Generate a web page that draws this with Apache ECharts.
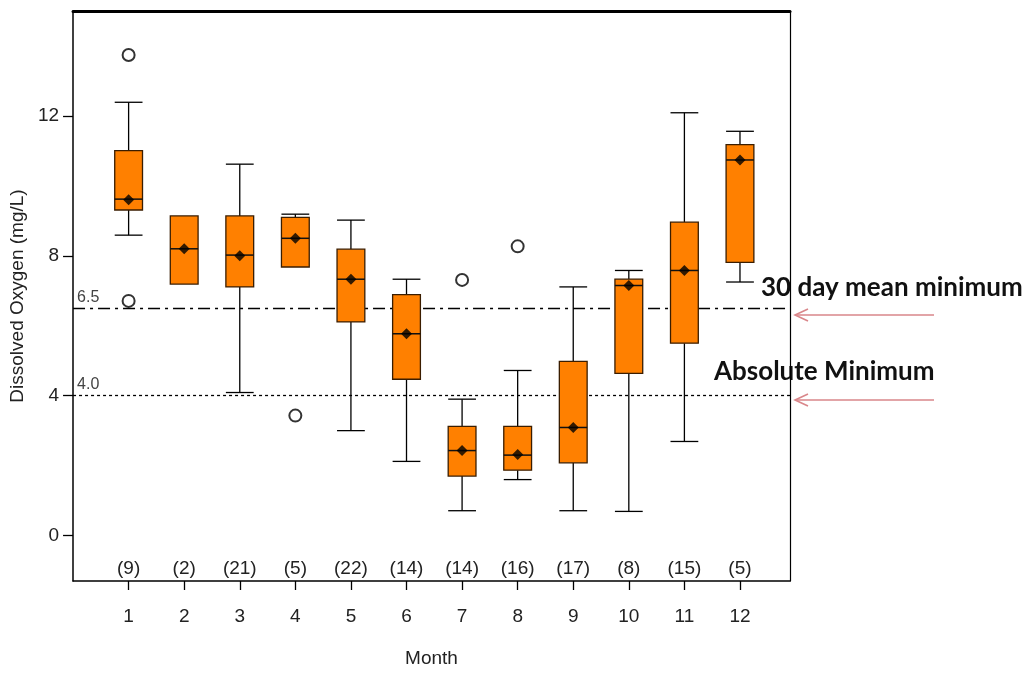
<!DOCTYPE html>
<html>
<head>
<meta charset="utf-8">
<script src="https://cdn.jsdelivr.net/npm/echarts@6/dist/echarts.min.js"></script>
<style>
  html, body { margin: 0; padding: 0; background: #fff; }
  #chart { width: 1026px; height: 673px; }
</style>
</head>
<body>
<div id="chart"></div>
<script>
// ---- data ----
const months       = [1, 2, 3, 4, 5, 6, 7, 8, 9, 10, 11, 12];
const whiskerLow   = [8.59, 7.19, 4.09, 7.68, 3.00, 2.12, 0.71, 1.60, 0.71, 0.69, 2.69, 7.25];
const q1           = [9.31, 7.19, 7.11, 7.68, 6.11, 4.47, 1.70, 1.87, 2.08, 4.64, 5.50, 7.81];
const medians      = [9.62, 8.20, 8.02, 8.50, 7.33, 5.77, 2.43, 2.30, 3.09, 7.15, 7.58, 10.74];
const q3           = [11.01, 9.14, 9.14, 9.10, 8.19, 6.89, 3.12, 3.12, 4.98, 7.33, 8.96, 11.18];
const whiskerHigh  = [12.39, 9.14, 10.62, 9.19, 9.02, 7.33, 3.90, 4.72, 7.11, 7.58, 12.09, 11.56];
const means        = [9.60, 8.20, 8.00, 8.50, 7.33, 5.77, 2.43, 2.32, 3.09, 7.15, 7.58, 10.74];
const counts       = [9, 2, 21, 5, 22, 14, 14, 16, 17, 8, 15, 5];
const outliers     = [[1, 13.74], [1, 6.71], [4, 3.43], [7, 7.31], [8, 8.27]];
const yTicks       = [0, 4, 8, 12];
const refLines     = [6.5, 4.0];
const refLabels    = ['6.5', '4.0'];

// ---- style / layout constants ----
const COUNT_ROW_Y = -0.94;      // value-level where the "(n)" row sits
const BOX_HALF = 0.25;          // half box width in month units
const ORANGE = '#ff8000';
const BOX_EDGE = '#3a1d00';
const FONT = '"Liberation Sans", Arial, sans-serif';
const TXT = '#222';
const FS = 19;

const boxData = months.map((m, i) => [m, whiskerLow[i], q1[i], medians[i], q3[i], whiskerHigh[i]]);
const meanData = months.map((m, i) => [m, means[i]]);
const countData = months.map((m, i) => [m, counts[i]]);

function renderBox(params, api) {
  const m = api.value(0);
  const lo = api.value(1), b1 = api.value(2), md = api.value(3), b3 = api.value(4), hi = api.value(5);
  const hw = api.size([1, 0])[0] * BOX_HALF;
  const x = api.coord([m, md])[0];
  const y = v => api.coord([m, v])[1];
  const wStyle = { stroke: '#000', lineWidth: 1.3, fill: null };
  const children = [];
  if (hi > b3) {
    children.push({ type: 'line', shape: { x1: x, y1: y(b3), x2: x, y2: y(hi) }, style: wStyle });
    children.push({ type: 'line', shape: { x1: x - hw, y1: y(hi), x2: x + hw, y2: y(hi) }, style: wStyle });
  }
  if (lo < b1) {
    children.push({ type: 'line', shape: { x1: x, y1: y(b1), x2: x, y2: y(lo) }, style: wStyle });
    children.push({ type: 'line', shape: { x1: x - hw, y1: y(lo), x2: x + hw, y2: y(lo) }, style: wStyle });
  }
  children.push({ type: 'rect', shape: { x: x - hw, y: y(b3), width: 2 * hw, height: y(b1) - y(b3) },
    style: { fill: ORANGE, stroke: BOX_EDGE, lineWidth: 1.3 } });
  children.push({ type: 'line', shape: { x1: x - hw, y1: y(md), x2: x + hw, y2: y(md) },
    style: { stroke: '#111', lineWidth: 1.5 } });
  return { type: 'group', children };
}

function renderCount(params, api) {
  const p = api.coord([api.value(0), COUNT_ROW_Y]);
  return { type: 'text', x: p[0], y: p[1],
    style: { text: '(' + api.value(1) + ')', fontSize: FS, fontFamily: FONT, fill: TXT,
      align: 'center', verticalAlign: 'middle' } };
}

const chart = echarts.init(document.getElementById('chart'), null, { renderer: 'canvas' });
const option = {
  animation: false,
  backgroundColor: '#fff',
  grid: { left: 72, right: 236, top: 11, bottom: 92, containLabel: false },
  xAxis: [{
    type: 'value', min: 0, max: 12.9, position: 'bottom',
    name: 'Month', nameLocation: 'middle', nameGap: 68,
    nameTextStyle: { fontSize: FS, fontFamily: FONT, color: TXT },
    axisLine: { show: true, onZero: false, lineStyle: { color: '#000', width: 1.5 } },
    axisTick: { show: true, length: 9, customValues: months, lineStyle: { color: '#000', width: 1.3 } },
    axisLabel: { customValues: months, margin: 26, fontSize: FS, fontFamily: FONT, color: TXT },
    splitLine: { show: false }
  }, {
    type: 'value', min: 0, max: 12.9, position: 'top',
    axisLine: { show: true, onZero: false, lineStyle: { color: '#000', width: 3 } },
    axisTick: { show: false }, axisLabel: { show: false }, splitLine: { show: false }
  }],
  yAxis: [{
    type: 'value', min: -1.3, max: 15, position: 'left',
    name: 'Dissolved Oxygen (mg/L)', nameLocation: 'middle', nameGap: 44,
    nameTextStyle: { fontSize: FS, fontFamily: FONT, color: TXT },
    axisLine: { show: true, onZero: false, lineStyle: { color: '#000', width: 1.5 } },
    axisTick: { show: true, length: 10, customValues: yTicks, lineStyle: { color: '#000', width: 1.3 } },
    axisLabel: { customValues: yTicks, margin: 14, fontSize: FS, fontFamily: FONT, color: TXT },
    splitLine: { show: false }
  }, {
    type: 'value', min: -1.3, max: 15, position: 'right',
    axisLine: { show: true, onZero: false, lineStyle: { color: '#000', width: 1.2 } },
    axisTick: { show: false }, axisLabel: { show: false }, splitLine: { show: false }
  }],
  series: [
    {
      type: 'custom', name: 'box', xAxisIndex: 0, yAxisIndex: 0,
      data: boxData, renderItem: renderBox, z: 3,
      encode: { x: 0, y: [1, 2, 3, 4, 5] },
      markLine: {
        silent: true, symbol: 'none', z: 2,
        data: [
          { yAxis: refLines[0], lineStyle: { type: [12, 5, 3, 5], color: '#000', width: 1.3 },
            label: { formatter: refLabels[0] } },
          { yAxis: refLines[1], lineStyle: { type: [3, 3], color: '#000', width: 1.3 },
            label: { formatter: refLabels[1] } }
        ],
        label: { position: 'insideStartTop', distance: [4, 3], fontSize: 16, fontFamily: FONT, color: '#444' }
      }
    },
    {
      type: 'scatter', name: 'mean', data: meanData, symbol: 'diamond', symbolSize: 11,
      itemStyle: { color: '#000' }, z: 5
    },
    {
      type: 'scatter', name: 'outlier', data: outliers, symbol: 'emptyCircle', symbolSize: 12,
      itemStyle: { color: '#000', borderWidth: 1.3 }, z: 5
    },
    {
      type: 'custom', name: 'count', data: countData, renderItem: renderCount, z: 5,
      encode: { x: 0 }
    }
  ],
  graphic: [
    { type: 'text', left: 761, top: 275,
      style: { text: '30 day mean minimum', font: 'bold 26px Lato, "Open Sans", sans-serif', fill: '#111' } },
    { type: 'text', left: 714, top: 359,
      style: { text: 'Absolute Minimum', font: 'bold 26px Lato, "Open Sans", sans-serif', fill: '#111' } },
    { type: 'polyline', shape: { points: [[934, 315], [795, 315]] }, style: { stroke: '#d9868a', lineWidth: 1.6 } },
    { type: 'polyline', shape: { points: [[808, 309], [795, 315], [808, 321]] }, style: { stroke: '#d9868a', lineWidth: 1.6, fill: null } },
    { type: 'polyline', shape: { points: [[934, 400], [795, 400]] }, style: { stroke: '#d9868a', lineWidth: 1.6 } },
    { type: 'polyline', shape: { points: [[808, 394], [795, 400], [808, 406]] }, style: { stroke: '#d9868a', lineWidth: 1.6, fill: null } }
  ]
};
chart.setOption(option);
</script>
</body>
</html>
